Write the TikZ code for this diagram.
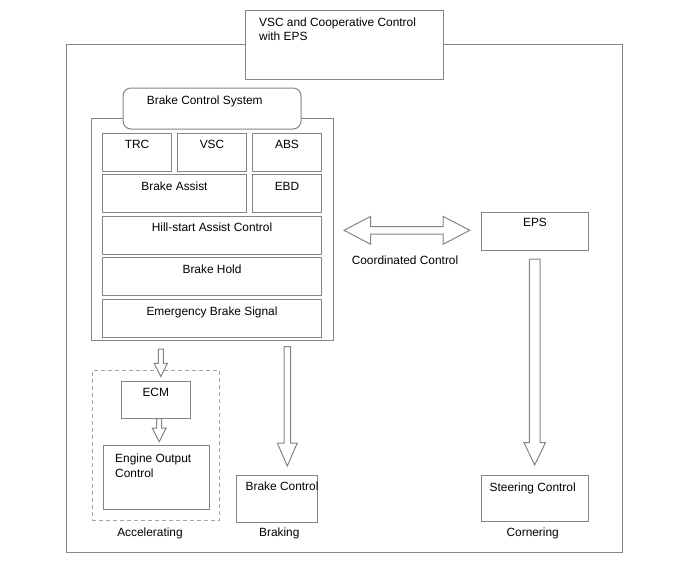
\documentclass[tikz,border=0pt]{standalone}
\usepackage{fontspec}
\setmainfont{Liberation Sans}
\usepackage{xcolor}
\usepackage{tikz}
\usetikzlibrary{positioning}

\colorlet{linegray}{black!48}
\tikzset{
  box/.style={draw=linegray,line width=1pt,fill=white,anchor=north west,inner sep=0pt},
  lbl/.style={anchor=base,inner sep=0pt},
  lblw/.style={anchor=base west,inner sep=0pt},
  blockarr/.style={draw=linegray,line width=1pt,fill=white,line join=miter},
}

\begin{document}
\begin{tikzpicture}[x=1pt,y=-1pt,font=\fontsize{11.9}{14.7}\selectfont]
\useasboundingbox (0,0) rectangle (688,560);

% outer frame and title
\node[box,fill=none,minimum width=556pt,minimum height=508pt] (frame) at (66,44) {};
\node[box,minimum width=198pt,minimum height=69pt] (title) at (245,10) {};
\node[inner sep=0pt,anchor=north west,align=left] (title-t) at (259,17.4)
  {VSC and Cooperative Control\\with EPS};

% brake control system
\node[box,minimum width=242pt,minimum height=222pt] (bcs-frame) at (91,118) {};
\node[box,rounded corners=8pt,minimum width=178pt,minimum height=41pt] (bcs) at (122.5,87.5) {};
\node[lblw] (bcs-t) at (146.7,104) {Brake Control System};

\node[box,minimum width=69pt,minimum height=38pt] (trc) at (102,132.5) {};
\node[box,minimum width=69pt,minimum height=38pt] (vsc) at (177,132.5) {};
\node[box,minimum width=69pt,minimum height=38pt] (abs) at (252,132.5) {};
\node[box,minimum width=144pt,minimum height=38pt] (ba) at (102,174) {};
\node[box,minimum width=69pt,minimum height=38pt] (ebd) at (252,174) {};
\node[box,minimum width=219pt,minimum height=38pt] (hac) at (102,215.5) {};
\node[box,minimum width=219pt,minimum height=38pt] (hold) at (102,257) {};
\node[box,minimum width=219pt,minimum height=38pt] (ebs) at (102,299) {};

\foreach \n/\txt in {trc/TRC,vsc/VSC,abs/ABS,ba/Brake Assist,ebd/EBD,
    hac/Hill-start Assist Control,hold/Brake Hold,ebs/Emergency Brake Signal}
  \node[lbl] (\n-t) at ([yshift=-16pt]\n.north) {\txt};

% EPS side
\node[box,minimum width=107pt,minimum height=38pt] (eps) at (481,211.5) {};
\node[lbl] (eps-t) at ([yshift=-15pt]eps.north) {EPS};
\node[lbl] (coord-t) at (405,264) {Coordinated Control};

% results
\node[box,fill=none,draw=black!36,dash pattern=on 4pt off 3pt,
  minimum width=127.5pt,minimum height=150pt] (accel) at (91.7,370) {};
\node[box,minimum width=69.5pt,minimum height=37pt] (ecm) at (120.5,380.5) {};
\node[lbl] (ecm-t) at ([yshift=-15.5pt]ecm.north) {ECM};
\node[box,minimum width=106pt,minimum height=64pt] (eoc) at (102.5,445) {};
\node[inner sep=0pt,anchor=north west,align=left] (eoc-t) at (115,454.1)
  {Engine Output\\Control};

\node[box,minimum width=81pt,minimum height=47pt] (bc) at (236,475) {};
\node[lblw] (bc-t) at ([xshift=9.5pt,yshift=-15.7pt]bc.north west) {Brake Control};
\node[box,minimum width=107pt,minimum height=46pt] (sc) at (481,475) {};
\node[lblw] (sc-t) at ([xshift=8.5pt,yshift=-16.7pt]sc.north west) {Steering Control};

\node[lbl] (accel-t) at (150,536) {Accelerating};
\node[lbl] (brk-t) at (279.3,536) {Braking};
\node[lbl] (cor-t) at (532.7,536) {Cornering};

% hollow arrows: x / top / tip / shaft half / head half / head length
\foreach \cx/\ya/\yb/\sw/\hw/\hl in {160.8/349/376.7/2.5/6.7/13.4,
    159.2/418.5/441.7/2.5/7/13.7, 287.3/346.7/466/3.3/10/23,
    534.7/259/465/5.3/10.7/22.3}
  \draw[blockarr] (\cx-\sw,\ya) -- (\cx+\sw,\ya) -- (\cx+\sw,\yb-\hl)
    -- (\cx+\hw,\yb-\hl) -- (\cx,\yb) -- (\cx-\hw,\yb-\hl)
    -- (\cx-\sw,\yb-\hl) -- cycle;

\draw[blockarr] (344,230.3) -- (370.7,216.3) -- (370.7,226.6) -- (443,226.6)
  -- (443,216.3) -- (469.7,230.3) -- (443,244.3) -- (443,234) -- (370.7,234)
  -- (370.7,244.3) -- cycle;
\end{tikzpicture}
\end{document}
